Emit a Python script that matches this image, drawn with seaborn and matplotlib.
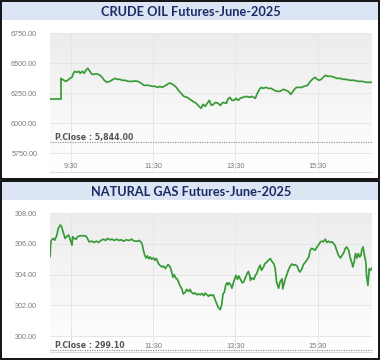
import numpy as np
import matplotlib
matplotlib.use("Agg")
import matplotlib.pyplot as plt
import seaborn as sns
from matplotlib.colors import LinearSegmentedColormap
from matplotlib.patches import Rectangle

# ---------------------------------------------------------
# DATA (minutes after the 9:00 open, price)
# ---------------------------------------------------------
TIME_TICKS = ["9:30", "11:30", "13:30", "15:30"]
SESSION_END_MIN = 469

CRUDE_TITLE = "CRUDE OIL Futures-June-2025"
crude_minutes = [0, 16, 16, 18, 23, 26, 29, 32, 34, 36, 39, 42, 44, 47, 50, 52, 55, 58,
                 61, 64, 67, 70, 73, 76, 79, 83, 87, 92, 95, 98, 102, 105, 109, 114, 120,
                 124, 128, 133, 137, 143, 149, 153, 157, 160, 163, 166, 169, 173, 176, 181,
                 184, 187, 191, 195, 200, 204, 208, 213, 217, 220, 223, 226, 229, 232, 235,
                 238, 241, 245, 248, 252, 257, 259, 262, 265, 268, 271, 274, 277, 281, 286,
                 290, 294, 299, 302, 305, 308, 310, 315, 318, 322, 327, 331, 335, 340, 344,
                 347, 351, 356, 359, 363, 367, 370, 375, 378, 382, 386, 389, 392, 395, 398,
                 401, 405, 410, 414, 418, 423, 427, 431, 437, 443, 449, 455, 461, 466, 469]
crude_price = [6200, 6200, 6372, 6364, 6347, 6356, 6372, 6381, 6414, 6431, 6422, 6431, 6414,
               6431, 6414, 6439, 6456, 6431, 6406, 6406, 6410, 6406, 6397, 6381, 6356, 6339,
               6347, 6364, 6372, 6364, 6364, 6356, 6356, 6347, 6347, 6350, 6347, 6331, 6314,
               6314, 6306, 6306, 6297, 6306, 6297, 6306, 6314, 6331, 6331, 6314, 6297, 6272,
               6247, 6222, 6214, 6197, 6181, 6164, 6139, 6122, 6156, 6139, 6164, 6189, 6147,
               6156, 6172, 6164, 6147, 6172, 6164, 6197, 6214, 6189, 6189, 6206, 6189, 6206,
               6214, 6222, 6214, 6222, 6206, 6247, 6281, 6297, 6289, 6297, 6289, 6289, 6272,
               6264, 6264, 6281, 6272, 6264, 6239, 6281, 6297, 6297, 6297, 6306, 6314, 6339,
               6364, 6381, 6364, 6356, 6364, 6381, 6397, 6389, 6389, 6381, 6372, 6372, 6364,
               6364, 6356, 6356, 6347, 6347, 6339, 6339, 6339]
CRUDE_PCLOSE = 5844.00
CRUDE_YTICKS = [5750, 6000, 6250, 6500, 6750]
CRUDE_YLIM = (5592, 6750)

NG_TITLE = "NATURAL GAS Futures-June-2025"
ng_minutes = [0, 1, 2, 5, 7, 10, 12, 15, 17, 19, 22, 24, 27, 29, 32, 33, 35, 38, 40, 44, 49,
              52, 54, 57, 61, 64, 68, 71, 74, 78, 81, 84, 87, 90, 94, 97, 100, 104, 107, 111,
              115, 119, 121, 124, 127, 130, 132, 134, 136, 138, 140, 142, 144, 146, 148, 151,
              153, 155, 158, 160, 163, 165, 168, 170, 172, 175, 177, 179, 181, 183, 185, 187,
              189, 192, 194, 197, 199, 202, 204, 206, 209, 211, 214, 216, 219, 221, 224, 226,
              228, 231, 233, 236, 238, 240, 243, 245, 248, 250, 252, 254, 256, 258, 259, 261,
              263, 265, 267, 269, 271, 273, 275, 277, 280, 282, 284, 287, 289, 291, 292, 294,
              297, 299, 301, 304, 306, 308, 311, 313, 316, 318, 321, 323, 326, 328, 330, 333,
              335, 338, 339, 341, 343, 345, 347, 350, 352, 355, 357, 360, 362, 364, 367, 369,
              372, 374, 377, 379, 381, 384, 386, 389, 391, 394, 396, 398, 401, 403, 406, 408,
              411, 413, 415, 418, 420, 423, 425, 428, 430, 432, 435, 437, 440, 441, 443, 445,
              447, 449, 451, 453, 454, 456, 458, 460, 461, 463, 464, 465, 467, 469]
ng_price = [305.15, 306.02, 306.24, 306.35, 306.24, 306.57, 307.00, 307.22, 307.11, 306.78,
            306.35, 306.46, 306.57, 306.35, 305.91, 306.46, 306.35, 306.30, 306.46, 306.52,
            306.52, 306.52, 306.39, 306.13, 306.17, 306.09, 306.17, 306.09, 306.22, 306.30,
            306.22, 306.35, 306.26, 306.30, 306.22, 306.30, 306.22, 306.26, 306.17, 306.26,
            306.22, 306.30, 306.22, 306.17, 306.17, 306.22, 306.13, 306.02, 305.59, 305.26,
            305.08, 305.22, 305.04, 305.15, 305.00, 305.08, 304.93, 305.04, 304.71, 304.61,
            304.50, 304.56, 304.39, 304.54, 304.65, 304.50, 304.21, 303.84, 304.00, 303.78,
            303.73, 303.56, 303.30, 303.08, 302.75, 302.86, 303.04, 302.91, 303.04, 302.86,
            302.75, 302.82, 302.69, 302.75, 302.69, 302.78, 302.64, 302.80, 302.71, 302.60,
            302.69, 302.64, 302.69, 302.43, 302.10, 301.88, 301.73, 302.03, 302.75, 302.86,
            303.34, 303.47, 303.34, 303.47, 303.34, 303.12, 303.47, 303.73, 303.95, 303.69,
            303.91, 303.73, 303.47, 303.52, 303.73, 304.06, 304.21, 303.91, 303.63, 303.78,
            303.69, 303.95, 304.06, 304.43, 304.61, 304.28, 304.50, 304.71, 304.82, 304.93,
            305.04, 304.87, 304.71, 304.39, 303.52, 303.12, 303.52, 303.73, 303.08, 303.41,
            303.78, 304.00, 304.28, 304.56, 304.69, 304.61, 304.65, 304.56, 304.28, 304.17,
            304.39, 304.65, 304.82, 304.93, 305.15, 305.59, 305.70, 305.65, 305.59, 305.80,
            305.91, 306.13, 306.17, 306.13, 306.30, 306.09, 306.17, 306.09, 306.13, 306.02,
            305.91, 305.52, 305.26, 305.08, 305.22, 305.44, 305.70, 305.80, 305.59, 305.15,
            304.71, 304.50, 304.82, 305.37, 305.08, 305.37, 305.15, 305.26, 305.59, 305.80,
            305.26, 304.82, 303.95, 303.30, 303.84, 304.39, 304.28, 304.43]
NG_PCLOSE = 299.10
NG_YTICKS = [300, 302, 304, 306, 308]
NG_YLIM = (298.98, 308)

# ---------------------------------------------------------
# STYLE
# ---------------------------------------------------------
W, H = 383, 362
LINE_GREEN = "#379b37"
TITLE_BAR = "#dce5f4"
TITLE_NAVY = "#1c2a66"
TICK_GREY = "#7a7a7a"
GRID_GREY = "#e6e6e6"

sns.set_style("white")
plt.rcParams["font.family"] = ["Liberation Sans", "DejaVu Sans"]

bg_cmap = LinearSegmentedColormap.from_list("bg", ["#ececec", "#f6f6f6", "#ffffff"])


def tick_minutes(label):
    h, m = label.split(":")
    return (int(h) - 9) * 60 + int(m)


def draw_panel(fig, top, title, minutes, price, pclose, yticks, ylim):
    # frame + title bar (pixel coordinates from the top of the image)
    fig.add_artist(Rectangle((1 / W, 1 - (top + 179) / H), 378 / W, 178 / H,
                             transform=fig.transFigure, fill=False, ec="black", lw=1.3))
    fig.add_artist(Rectangle((2 / W, 1 - (top + 20) / H), 376 / W, 18 / H,
                             transform=fig.transFigure, fc=TITLE_BAR, ec="none"))
    fig.text(191 / W, 1 - (top + 11.5) / H, title, ha="center", va="center",
             fontsize=9.2, fontweight="bold", color=TITLE_NAVY, family=["Lato", "DejaVu Sans"])

    ax = fig.add_axes([50 / W, 1 - (top + 172) / H, 322 / W, 139 / H])
    ax.imshow(np.linspace(0, 1, 256).reshape(-1, 1), cmap=bg_cmap, aspect="auto",
              extent=[0, SESSION_END_MIN, ylim[0], ylim[1]], origin="upper", zorder=0)

    sns.lineplot(x=minutes, y=price, ax=ax, color=LINE_GREEN, linewidth=1.25,
                 estimator=None, sort=False, zorder=3)

    ax.axhline(pclose, color="#8a8a8a", linestyle=(0, (1, 1.2)), linewidth=0.8, zorder=6)
    label = ax.annotate(f"P.Close : {pclose:,.2f}", xy=(0, pclose),
                        xycoords=("axes fraction", "data"),
                        xytext=(3.5, 1.2), textcoords="offset points", ha="left",
                        va="baseline", fontsize=5.6, fontweight="bold", color="#555555",
                        family="DejaVu Sans", zorder=5)

    ax.set_xlim(0, SESSION_END_MIN)
    ax.set_ylim(*ylim)
    ax.set_xticks([tick_minutes(t) for t in TIME_TICKS])
    ax.set_xticklabels(TIME_TICKS)
    ax.set_yticks(yticks)
    ax.set_yticklabels([f"{v:.2f}" for v in yticks])
    ax.tick_params(axis="x", length=0, pad=-6.5, labelsize=5.3, labelcolor=TICK_GREY)
    ax.tick_params(axis="y", length=0, pad=9.2, labelsize=5.2, labelcolor=TICK_GREY)
    ax.set_axisbelow(True)
    ax.grid(True, color=GRID_GREY, linewidth=0.7)
    ax.set_xlabel("")
    ax.set_ylabel("")
    for side in ["top", "left", "right"]:
        ax.spines[side].set_visible(False)
    ax.spines["bottom"].set_color("#dcdcdc")
    ax.spines["bottom"].set_linewidth(0.8)

    # the P.Close label covers any time label that sits underneath it
    fig.canvas.draw()
    box = label.get_window_extent()
    for tl in ax.get_xticklabels():
        if tl.get_window_extent().overlaps(box):
            tl.set_visible(False)
    return ax


fig = plt.figure(figsize=(W / 100, H / 100), dpi=100)
fig.patch.set_facecolor("white")

draw_panel(fig, 0, CRUDE_TITLE, crude_minutes, crude_price, CRUDE_PCLOSE, CRUDE_YTICKS, CRUDE_YLIM)
draw_panel(fig, 180, NG_TITLE, ng_minutes, ng_price, NG_PCLOSE, NG_YTICKS, NG_YLIM)

fig.savefig("out.png", dpi=100)
